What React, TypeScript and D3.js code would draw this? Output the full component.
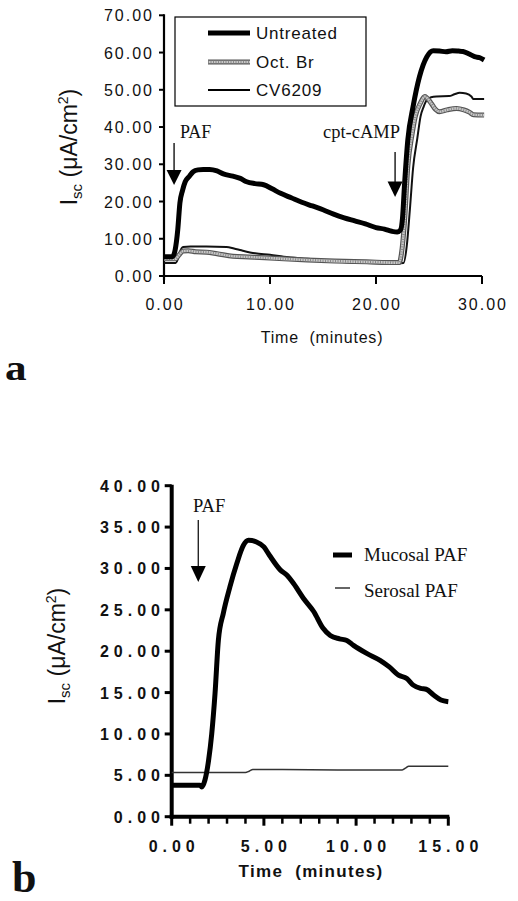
import React from "react";
import * as d3 from "d3";

// ---------- Panel a data ----------
const aTicksX = [0, 10, 20, 30];
const aTicksY = [0, 10, 20, 30, 40, 50, 60, 70];
const aLegend = ["Untreated", "Oct. Br", "CV6209"];

const untreatedT = [0, 0.8, 1.05, 1.3, 1.5, 1.75, 2.0, 2.4, 2.75, 3.2, 3.7, 4.3, 5.0, 5.6, 6.5, 7.2, 7.8, 8.6, 9.4, 10.2, 11.0, 12.0, 13.0, 14.0, 15.0, 16.0, 17.0, 18.0, 19.0, 20.0, 20.8, 21.5, 22.0, 22.3, 22.5, 22.7, 23.0, 23.5, 24.1, 24.8, 25.4, 26.0, 26.6, 27.2, 27.8, 28.2, 28.8, 29.3, 29.8, 30.2];
const untreatedV = [5.2, 5.2, 7.0, 12.5, 19.6, 23.0, 25.3, 26.8, 28.0, 28.5, 28.6, 28.6, 28.2, 27.4, 26.8, 26.2, 25.3, 24.8, 24.5, 23.4, 22.2, 21.0, 19.8, 18.8, 17.8, 16.6, 15.6, 14.8, 14.0, 13.0, 12.6, 12.0, 11.8, 12.3, 15.5, 24.9, 36.5, 45.5, 53.5, 58.9, 60.5, 60.4, 60.2, 60.5, 60.4, 60.3, 59.6, 58.9, 58.6, 58.0];

const octBrT = [0, 1.1, 1.4, 1.8, 2.3, 3.0, 4.0, 5.0, 6.5, 8.0, 9.5, 11.3, 13.5, 16.1, 19.1, 21.8, 22.2, 22.4, 22.7, 23.0, 23.4, 23.7, 24.2, 24.6, 25.2, 25.6, 26.0, 26.7, 27.6, 28.3, 28.8, 29.2, 30.2];
const octBrV = [4.6, 4.6, 5.6, 6.7, 6.8, 6.5, 6.4, 6.0, 5.3, 5.1, 4.9, 4.6, 4.3, 4.0, 3.8, 3.6, 3.6, 6.0, 15.0, 29.4, 38.0, 42.8, 46.5, 48.2, 46.4, 44.8, 44.1, 44.6, 45.0, 44.6, 44.0, 43.3, 43.2];

const cvT = [0, 1.1, 1.3, 1.5, 1.8, 2.5, 4.0, 5.9, 6.6, 7.3, 8.6, 10.0, 11.3, 13.5, 16.1, 19.1, 22.0, 22.6, 22.9, 23.2, 23.5, 23.9, 24.2, 24.5, 24.8, 25.2, 25.7, 26.9, 27.4, 27.9, 28.5, 29.0, 29.2, 30.2];
const cvV = [3.5, 3.5, 4.5, 6.5, 7.8, 7.9, 7.9, 7.8, 7.4, 6.9, 6.1, 5.7, 5.2, 4.6, 3.9, 3.5, 3.4, 3.5, 8.0, 18.0, 29.0, 37.0, 42.8, 45.5, 47.3, 48.0, 48.2, 48.3, 48.8, 49.2, 49.0, 48.2, 47.5, 47.5];

// ---------- Panel b data ----------
const bTicksX = [0, 5, 10, 15];
const bMinorX = [0, 1, 2, 3, 4, 5, 6, 7, 8, 9, 10, 11, 12, 13, 14, 15];
const bTicksY = [0, 5, 10, 15, 20, 25, 30, 35, 40];
const bLegend = ["Mucosal PAF", "Serosal PAF"];

const mucosalT = [0, 1.0, 1.54, 1.63, 1.8, 2.0, 2.17, 2.35, 2.53, 2.8, 3.16, 3.53, 3.89, 4.16, 4.6, 5.0, 5.3, 5.9, 6.24, 6.6, 7.14, 7.7, 8.2, 8.6, 9.1, 9.5, 9.86, 10.6, 11.3, 11.8, 12.3, 12.75, 13.1, 13.5, 13.8, 14.2, 14.6, 15.0];
const mucosalV = [3.8, 3.8, 3.8, 3.6, 4.4, 6.8, 10.0, 14.9, 21.3, 24.6, 27.8, 30.6, 32.8, 33.4, 33.2, 32.6, 31.6, 29.8, 29.2, 28.2, 26.4, 24.8, 22.8, 21.9, 21.5, 21.3, 20.7, 19.7, 18.9, 18.1, 17.1, 16.7, 15.9, 15.5, 15.4, 14.7, 14.1, 13.9];

const serosalT = [0, 2.0, 4.0, 4.2, 4.4, 6.0, 9.0, 12.5, 12.7, 12.85, 14.0, 15.0];
const serosalV = [5.35, 5.35, 5.35, 5.5, 5.7, 5.7, 5.65, 5.65, 5.9, 6.1, 6.1, 6.1];

const fmt = (v: number) => v.toFixed(2);

function zip(t: number[], v: number[]): [number, number][] {
  return t.map((x, i) => [x, v[i]]);
}

const SANS = "'Liberation Sans', Arial, Helvetica, sans-serif";
const SERIF = "'Liberation Serif', 'Times New Roman', serif";

function PanelA() {
  const x = d3.scaleLinear().domain([0, 30]).range([164, 482]);
  const y = d3.scaleLinear().domain([0, 70]).range([276, 15.3]);
  const line = d3
    .line<[number, number]>()
    .x((d) => x(d[0]))
    .y((d) => y(d[1]))
    .curve(d3.curveMonotoneX);
  const uPath = line(zip(untreatedT, untreatedV)) || "";
  const oPath = line(zip(octBrT, octBrV)) || "";
  const cPath = line(zip(cvT, cvV)) || "";
  const legY = [33, 62, 90];

  const paf = x(0.95);
  const camp = x(21.8);

  return (
    <g>
      {/* axes */}
      <line x1={x(0)} x2={x(0)} y1={y(70) - 1} y2={y(0) + 4} stroke="#000" strokeWidth={2.2} />
      <line x1={x(0) - 5} x2={x(30)} y1={y(0)} y2={y(0)} stroke="#000" strokeWidth={2.2} />
      {aTicksY.map((v) => (
        <g key={"ay" + v}>
          <line x1={x(0) - 5} x2={x(0)} y1={y(v)} y2={y(v)} stroke="#000" strokeWidth={2} />
          <text x={154} y={y(v) + 6} textAnchor="end" fontFamily={SANS} fontSize={16} letterSpacing={2} fill="#111">
            {fmt(v)}
          </text>
        </g>
      ))}
      {aTicksX.map((v) => (
        <g key={"ax" + v}>
          <line x1={x(v)} x2={x(v)} y1={y(0)} y2={y(0) + 8} stroke="#000" strokeWidth={2} />
          <text x={x(v) + 1} y={310} textAnchor="middle" fontFamily={SANS} fontSize={16} letterSpacing={2} fill="#111">
            {fmt(v)}
          </text>
        </g>
      ))}
      <text x={322} y={343} textAnchor="middle" fontFamily={SANS} fontSize={16} letterSpacing={0.8} fill="#111">
        Time{"\u00a0"} (minutes)
      </text>
      <text transform="translate(77,147) rotate(-90)" textAnchor="middle" fontFamily={SANS} fontSize={23} fill="#111">
        I<tspan fontSize={15} dy={5}>sc</tspan>
        <tspan dy={-5}> (μA/cm</tspan>
        <tspan fontSize={14} dy={-9}>2</tspan>
        <tspan dy={9}>)</tspan>
      </text>

      {/* series */}
      <path d={cPath} fill="none" stroke="#111" strokeWidth={2} />
      <path d={oPath} fill="none" stroke="#555" strokeWidth={5} />
      <path d={oPath} fill="none" stroke="#c8c8c8" strokeWidth={2.6} />
      <path d={oPath} fill="none" stroke="#8a8a8a" strokeWidth={2.6} strokeDasharray="1 1.5" />
      <path d={uPath} fill="none" stroke="#000" strokeWidth={5} strokeLinejoin="round" />

      {/* legend */}
      <rect x={175} y={17} width={191} height={89} fill="#fff" stroke="#000" strokeWidth={1.2} />
      <line x1={208} x2={250} y1={legY[0]} y2={legY[0]} stroke="#000" strokeWidth={5} />
      <line x1={208} x2={250} y1={legY[1]} y2={legY[1]} stroke="#555" strokeWidth={5} />
      <line x1={208} x2={250} y1={legY[1]} y2={legY[1]} stroke="#c8c8c8" strokeWidth={2.6} />
      <line x1={208} x2={250} y1={legY[1]} y2={legY[1]} stroke="#8a8a8a" strokeWidth={2.6} strokeDasharray="1 1.5" />
      <line x1={208} x2={250} y1={legY[2]} y2={legY[2]} stroke="#000" strokeWidth={2} />
      {aLegend.map((s, i) => (
        <text key={s} x={256} y={legY[i] + 6} fontFamily={SANS} fontSize={17} letterSpacing={0.8} fill="#111">
          {s}
        </text>
      ))}

      {/* annotations */}
      <text x={180} y={138} fontFamily={SERIF} fontSize={18} fill="#111">PAF</text>
      <line x1={paf} x2={paf} y1={143} y2={172} stroke="#000" strokeWidth={1.3} />
      <path d={`M${paf - 7.5},170 L${paf + 7.5},170 L${paf},185 Z`} fill="#000" />
      <text x={323} y={138} fontFamily={SERIF} fontSize={18.5} fill="#111">cpt-cAMP</text>
      <line x1={camp} x2={camp} y1={152} y2={183} stroke="#000" strokeWidth={1.3} />
      <path d={`M${camp - 7.5},181.5 L${camp + 7.5},181.5 L${camp},197 Z`} fill="#000" />

      <text x={5} y={380} fontFamily={SERIF} fontWeight="bold" fontSize={36} fill="#111" transform="translate(5,380) scale(1.2,1) translate(-5,-380)">
        a
      </text>
    </g>
  );
}

function PanelB() {
  const x = d3.scaleLinear().domain([0, 15]).range([171.7, 448.3]);
  const y = d3.scaleLinear().domain([0, 40]).range([816.7, 485.7]);
  const line = d3
    .line<[number, number]>()
    .x((d) => x(d[0]))
    .y((d) => y(d[1]))
    .curve(d3.curveMonotoneX);
  const mPath = line(zip(mucosalT, mucosalV)) || "";
  const sPath = line(zip(serosalT, serosalV)) || "";
  const paf = x(1.44);

  return (
    <g>
      <line x1={x(0)} x2={x(0)} y1={y(40) - 1} y2={y(0) + 2} stroke="#000" strokeWidth={4} />
      <line x1={x(0) - 2} x2={x(15) + 1} y1={y(0)} y2={y(0)} stroke="#000" strokeWidth={4} />
      {bTicksY.map((v) => (
        <g key={"by" + v}>
          <line x1={x(0) - 7} x2={x(0)} y1={y(v)} y2={y(v)} stroke="#000" strokeWidth={3} />
          <text x={165} y={y(v) + 6} textAnchor="end" fontFamily={SANS} fontWeight="bold" fontSize={16} letterSpacing={5} fill="#111">
            {fmt(v)}
          </text>
        </g>
      ))}
      {bMinorX.map((v) => (
        <line key={"bm" + v} x1={x(v)} x2={x(v)} y1={y(0)} y2={y(0) + (v % 5 === 0 ? 9 : 7)} stroke="#000" strokeWidth={v % 5 === 0 ? 3 : 2.5} />
      ))}
      {bTicksX.map((v) => (
        <text key={"bx" + v} x={x(v) + 2.5} y={852} textAnchor="middle" fontFamily={SANS} fontWeight="bold" fontSize={16} letterSpacing={5} fill="#111">
          {fmt(v)}
        </text>
      ))}
      <text x={311} y={877} textAnchor="middle" fontFamily={SANS} fontWeight="bold" fontSize={17} letterSpacing={1.3} fill="#111">
        Time{"\u00a0"} (minutes)
      </text>
      <text transform="translate(65,646) rotate(-90)" textAnchor="middle" fontFamily={SANS} fontSize={23} fill="#111">
        I<tspan fontSize={15} dy={5}>sc</tspan>
        <tspan dy={-5}> (μA/cm</tspan>
        <tspan fontSize={14} dy={-9}>2</tspan>
        <tspan dy={9}>)</tspan>
      </text>

      <path d={sPath} fill="none" stroke="#333" strokeWidth={1.5} />
      <path d={mPath} fill="none" stroke="#000" strokeWidth={5} strokeLinejoin="round" />

      {/* legend */}
      <line x1={333} x2={352} y1={555} y2={555} stroke="#000" strokeWidth={5} />
      <line x1={335} x2={350} y1={588} y2={588} stroke="#333" strokeWidth={1.5} />
      {bLegend.map((s, i) => (
        <text key={s} x={364} y={[561, 597][i]} fontFamily={SERIF} fontSize={19} fill="#111">
          {s}
        </text>
      ))}

      <text x={193} y={512} fontFamily={SERIF} fontSize={18.5} fill="#111">PAF</text>
      <line x1={paf} x2={paf} y1={520} y2={568} stroke="#000" strokeWidth={1.2} />
      <path d={`M${paf - 7.5},566 L${paf + 7.5},566 L${paf},582 Z`} fill="#000" />

      <text x={12} y={892} fontFamily={SERIF} fontWeight="bold" fontSize={44} fill="#111">
        b
      </text>
    </g>
  );
}

export default function App() {
  return (
    <svg
      width={518}
      height={901}
      viewBox="0 0 518 901"
      style={{ position: "absolute", left: 0, top: 0, background: "#fff" }}
    >
      <rect x={0} y={0} width={518} height={901} fill="#fff" />
      <PanelA />
      <PanelB />
    </svg>
  );
}
